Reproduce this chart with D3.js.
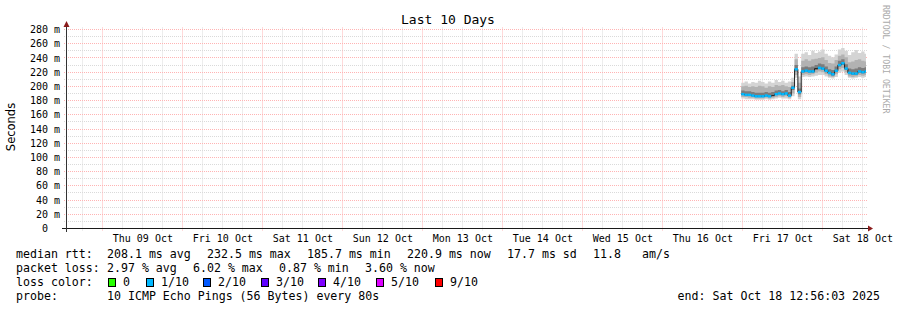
<!DOCTYPE html>
<html>
<head>
<meta charset="utf-8">
<script src="https://cdn.jsdelivr.net/npm/d3@7"></script>
<style>
  html, body { margin: 0; padding: 0; background: #fff; }
  svg { display: block; }
  text { font-family: "DejaVu Sans Mono", monospace; fill: #000; white-space: pre; }
</style>
</head>
<body>
<div id="chart"></div>
<script>
// --- 1. DATA ---
const endTime = Date.UTC(2025, 9, 18, 12, 56, 3);
const startTime = endTime - 10 * 24 * 3600 * 1000;
const sampleStart = Date.UTC(2025, 9, 16, 23, 30, 0);
const sampleStep = 3600 * 1000;

// median rtt (ms), one value per hour
const medianRtt = [189,188,188,187,186,186,186,187,186,187,189,190,189,190,187,
  198,224,192,
  221,222,221,221,225,226,225,222,219,217,222,230,232.5,225,219,218,218,221,220,221];
// smoke bands (ms): outer, middle, inner
const smokeHi1 = [205,207,204,206,205,208,206,204,207,205,209,206,208,205,207,
  212,246,214,
  246,248,244,250,247,249,252,246,243,241,245,252,254,250,244,248,251,247,249,246];
const smokeHi2 = [200,201,199,200,199,201,200,198,200,199,202,201,202,200,199,
  206,238,205,
  236,238,236,238,239,240,241,237,233,232,237,243,245,241,234,235,237,238,236,235];
const smokeHi3 = [194,193,193,192,191,191,191,192,191,192,194,195,193,195,192,
  201,230,197,
  227,228,227,228,230,232,231,228,224,223,228,236,238,231,225,224,225,227,226,227];
const smokeLo3 = [188,187,187,186,185,185,185,186,185,186,188,189,188,189,186,
  195,221,189,
  219,220,219,219,223,224,223,220,217,215,220,228,230,223,217,216,216,219,218,219];
const smokeLo2 = [185,185,184,184,183,183,183,184,183,184,185,186,185,186,184,
  190,216,185,
  216,217,216,217,219,221,220,217,214,213,217,224,226,220,214,213,214,216,215,216];
const smokeLo1 = [183,182,182,182,181,181,181,182,181,182,183,184,183,183,182,
  186,212,182,
  213,214,213,214,215,216,216,214,212,211,213,219,221,216,212,211,212,213,212,213];
// loss level per sample (index into lossColors), null = no coloured median
const lossLevel = [1,1,1,1,1,1,1,1,1,null,1,1,1,1,1,
  1,1,1,
  1,1,1,1,null,1,1,1,1,1,1,1,1,1,1,1,1,1,1,1];

const yTicks = [0,20,40,60,80,100,120,140,160,180,200,220,240,260,280];
const dayLabels = ["Thu 09 Oct","Fri 10 Oct","Sat 11 Oct","Sun 12 Oct","Mon 13 Oct",
  "Tue 14 Oct","Wed 15 Oct","Thu 16 Oct","Fri 17 Oct","Sat 18 Oct"];

const lossColors = ["#26ff00","#00b8ff","#0059ff","#5e00ff","#7e00ff","#dd00ff","#ff0000"];
const lossNames = ["0","1/10","2/10","3/10","4/10","5/10","9/10"];
const rttStats = ["208.1 ms avg","232.5 ms max","185.7 ms min","220.9 ms now","17.7 ms sd","11.8","am/s"];
const lossStats = ["2.97 % avg","6.02 % max","0.87 % min","3.60 % now"];
const probeText = "10 ICMP Echo Pings (56 Bytes) every 80s";
const endText = "end: Sat Oct 18 12:56:03 2025";

// --- 2. LAYOUT ---
const width = 897, height = 310;
const plotLeft = 66, plotRight = 866, plotTop = 29.5, plotBottom = 228.5;

const svg = d3.select("#chart").append("svg")
    .attr("width", width)
    .attr("height", height);

const x = d3.scaleUtc().domain([startTime, endTime]).range([plotLeft, plotRight]);
const y = d3.scaleLinear().domain([0, 280]).range([plotBottom, plotTop]);
const snap = v => Math.floor(v) + 0.5;

// --- 3. GRID ---
const grid = svg.append("g").attr("class", "grid");
const minorCol = "#dadada", majorCol = "#ffb4b4";

const minorH = d3.range(10, 281, 20);
grid.selectAll(".hminor").data(minorH).join("line")
    .attr("x1", plotLeft - 2).attr("x2", plotRight + 2)
    .attr("y1", d => snap(y(d))).attr("y2", d => snap(y(d)))
    .attr("stroke", minorCol).attr("stroke-dasharray", "1,1");

const sixHours = d3.utcHour.every(6).range(new Date(startTime), new Date(endTime))
    .filter(d => d.getUTCHours() !== 0);
grid.selectAll(".vminor").data(sixHours).join("line")
    .attr("x1", d => snap(x(d))).attr("x2", d => snap(x(d)))
    .attr("y1", plotBottom + 2).attr("y2", plotTop - 2)
    .attr("stroke", minorCol).attr("stroke-dasharray", "1,1");

grid.selectAll(".hmajor").data(yTicks.filter(d => d > 0)).join("line")
    .attr("x1", plotLeft - 2).attr("x2", plotRight + 2)
    .attr("y1", d => snap(y(d))).attr("y2", d => snap(y(d)))
    .attr("stroke", majorCol).attr("stroke-dasharray", "1,1");

const days = d3.utcDay.range(new Date(startTime), new Date(endTime));
grid.selectAll(".vmajor").data(days).join("line")
    .attr("x1", d => snap(x(d))).attr("x2", d => snap(x(d)))
    .attr("y1", plotBottom + 2).attr("y2", plotTop - 2)
    .attr("stroke", majorCol).attr("stroke-dasharray", "1,1");

// --- 4. SMOKE + MEDIAN ---
const samples = medianRtt.map((m, i) => ({
    t: Math.min(sampleStart + i * sampleStep, endTime),
    med: m,
    hi1: smokeHi1[i], hi2: smokeHi2[i], hi3: smokeHi3[i],
    lo1: smokeLo1[i], lo2: smokeLo2[i], lo3: smokeLo3[i],
    loss: lossLevel[i]
}));
// close the final step at the end time
samples.push(Object.assign({}, samples[samples.length - 1], { t: endTime }));

const bands = [["lo1", "hi1", "#d4d4d4"], ["lo2", "hi2", "#b2b2b2"], ["lo3", "hi3", "#7c7c7c"]];
const smoke = svg.append("g").attr("class", "smoke");
bands.forEach(([lo, hi, col]) => {
    smoke.append("path")
        .datum(samples)
        .attr("fill", col)
        .attr("d", d3.area()
            .curve(d3.curveStepAfter)
            .x(d => x(d.t))
            .y0(d => y(d[lo]))
            .y1(d => y(d[hi])));
});

svg.append("path")
    .datum(samples)
    .attr("fill", "none")
    .attr("stroke", "#202020")
    .attr("stroke-width", 1)
    .attr("d", d3.line().curve(d3.curveStepAfter).x(d => x(d.t)).y(d => y(d.med)));

// coloured median per loss level, one step segment each
lossColors.forEach((col, li) => {
    const segs = [];
    samples.forEach((d, i) => {
        if (d.loss === li && i < samples.length - 1) {
            segs.push([x(d.t), y(d.med), x(samples[i + 1].t)]);
        }
    });
    svg.append("g").selectAll("line").data(segs).join("line")
        .attr("x1", d => d[0]).attr("x2", d => d[2])
        .attr("y1", d => d[1]).attr("y2", d => d[1])
        .attr("stroke", col).attr("stroke-width", 2.5);
});

// --- 5. AXES ---
svg.append("line")
    .attr("x1", 62).attr("x2", plotRight + 2)
    .attr("y1", plotBottom).attr("y2", plotBottom)
    .attr("stroke", "#1a1a1a");
svg.append("line")
    .attr("x1", plotLeft + 0.5).attr("x2", plotLeft + 0.5)
    .attr("y1", plotBottom + 3.5).attr("y2", 24)
    .attr("stroke", "#333");
svg.append("path")
    .attr("d", `M${plotRight + 2},${plotBottom - 3}L${plotRight + 7},${plotBottom}L${plotRight + 2},${plotBottom + 3}Z`)
    .attr("fill", "#8b1c1c");
svg.append("path")
    .attr("d", `M${plotLeft - 2.5},27L${plotLeft + 0.5},21L${plotLeft + 3.5},27Z`)
    .attr("fill", "#8b1c1c");

svg.append("g").selectAll("text").data(yTicks).join("text")
    .attr("x", 60)
    .attr("y", d => y(d) + 3.6)
    .attr("text-anchor", "end")
    .attr("font-size", 10)
    .text(d => d === 0 ? "0  " : d + " m");

svg.append("g").selectAll("text").data(dayLabels).join("text")
    .attr("x", (d, i) => x(Date.UTC(2025, 9, 9 + i, 12)))
    .attr("y", 241.5)
    .attr("text-anchor", "middle")
    .attr("font-size", 10)
    .text(d => d);

svg.append("text")
    .attr("transform", "translate(15,127) rotate(-90)")
    .attr("text-anchor", "middle")
    .attr("font-size", 11.5)
    .style("font-family", "'DejaVu Sans', sans-serif")
    .text("Seconds");

svg.append("text")
    .attr("x", 448).attr("y", 23.5)
    .attr("text-anchor", "middle")
    .attr("font-size", 13)
    .text("Last 10 Days");

svg.append("text")
    .attr("transform", "translate(883,5) rotate(90)")
    .attr("font-size", 8.2)
    .style("fill", "#aaa")
    .text("RRDTOOL / TOBI OETIKER");

// --- 6. LEGEND ---
const legend = svg.append("g").attr("class", "legend").attr("font-size", 11.6);
const rowY = [258, 272, 286, 300];
legend.append("text").attr("x", 16).attr("y", rowY[0]).text("median rtt:");
legend.append("text").attr("x", 16).attr("y", rowY[1]).text("packet loss:");
legend.append("text").attr("x", 16).attr("y", rowY[2]).text("loss color:");
legend.append("text").attr("x", 16).attr("y", rowY[3]).text("probe:");

const rttX = [107, 207, 307, 407, 507, 593, 642];
legend.selectAll(".rtt").data(rttStats).join("text")
    .attr("x", (d, i) => rttX[i]).attr("y", rowY[0]).text(d => d);
const lossX = [107, 193, 279, 365];
legend.selectAll(".loss").data(lossStats).join("text")
    .attr("x", (d, i) => lossX[i]).attr("y", rowY[1]).text(d => d);

const boxX = [108, 146, 203, 261, 318, 376, 435];
lossNames.forEach((name, i) => {
    legend.append("rect")
        .attr("x", boxX[i] + 0.5).attr("y", 278.5)
        .attr("width", 7).attr("height", 8)
        .attr("fill", lossColors[i]).attr("stroke", "#000");
    legend.append("text").attr("x", boxX[i] + 15).attr("y", rowY[2]).text(name);
});

legend.append("text").attr("x", 107).attr("y", rowY[3]).text(probeText);
legend.append("text").attr("x", 880).attr("y", rowY[3]).attr("text-anchor", "end").text(endText);
</script>
</body>
</html>
